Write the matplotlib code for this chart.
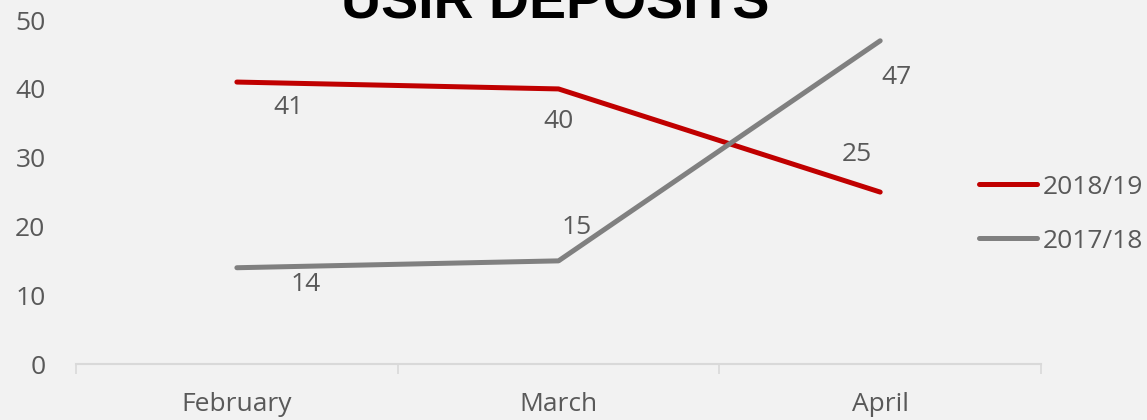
import matplotlib
matplotlib.use("Agg")
import matplotlib.pyplot as plt

# 数据
months = ["February", "March", "April"]
series_names = ["2018/19", "2017/18"]
vals_1819 = [41, 40, 25]
vals_1718 = [14, 15, 47]

COLORS = {"2018/19": "#C00000", "2017/18": "#808080"}
BG = "#F2F2F2"
TXT = "#595959"

plt.rcParams["font.family"] = ["Open Sans", "DejaVu Sans"]

fig = plt.figure(figsize=(11.47, 4.2), dpi=100, facecolor=BG)
ax = fig.add_axes([0.0663, 0.1333, 0.9076 - 0.0663, 0.952 - 0.1333])
ax.set_facecolor(BG)

X = list(range(len(months)))
ax.plot(X, vals_1819, color=COLORS["2018/19"], lw=3.6, label="2018/19", solid_capstyle="round")
ax.plot(X, vals_1718, color=COLORS["2017/18"], lw=3.6, label="2017/18", solid_capstyle="round")

# 数据标签 (偏移量, 像素)
off_1819 = [(52, -25), (0, -33), (-23, 38)]
off_1718 = [(69, -17), (18, 33), (16, -37)]
for vals, offs in [(vals_1819, off_1819), (vals_1718, off_1718)]:
    for x, v, (dx, dy) in zip(X, vals, offs):
        ax.annotate(str(v), (x, v), xytext=(dx * 0.72, dy * 0.72), textcoords="offset points",
                    ha="center", va="center", fontsize=19, color=TXT)

ax.set_xlim(-0.5, 2.5)
ax.set_ylim(0, 50)
ax.set_yticks([0, 10, 20, 30, 40, 50])
ax.tick_params(axis="y", length=0, pad=22, labelsize=19, labelcolor=TXT)

# 类别边界刻度 + 标签
ax.set_xticks([-0.5, 0.5, 1.5, 2.5])
ax.set_xticklabels([])
ax.tick_params(axis="x", which="major", length=7, color="#D9D9D9", width=1.2)
ax.set_xticks(X, minor=True)
ax.set_xticklabels(months, minor=True)
ax.tick_params(axis="x", which="minor", length=0, pad=20, labelsize=19, labelcolor=TXT)

for s in ["top", "right", "left"]:
    ax.spines[s].set_visible(False)
ax.spines["bottom"].set_color("#D9D9D9")
ax.spines["bottom"].set_linewidth(1.5)

fig.text(0.484, 0.955, "USIR DEPOSITS", ha="center", va="baseline",
         fontsize=40, fontweight="bold", color="black", family="Liberation Sans")

leg = fig.legend(loc="center left", bbox_to_anchor=(0.833, 0.49), frameon=False,
                 fontsize=19, labelcolor=TXT, handlelength=2.2, handletextpad=0.2,
                 labelspacing=1.1)

plt.savefig("out.png", dpi=100, facecolor=BG)
